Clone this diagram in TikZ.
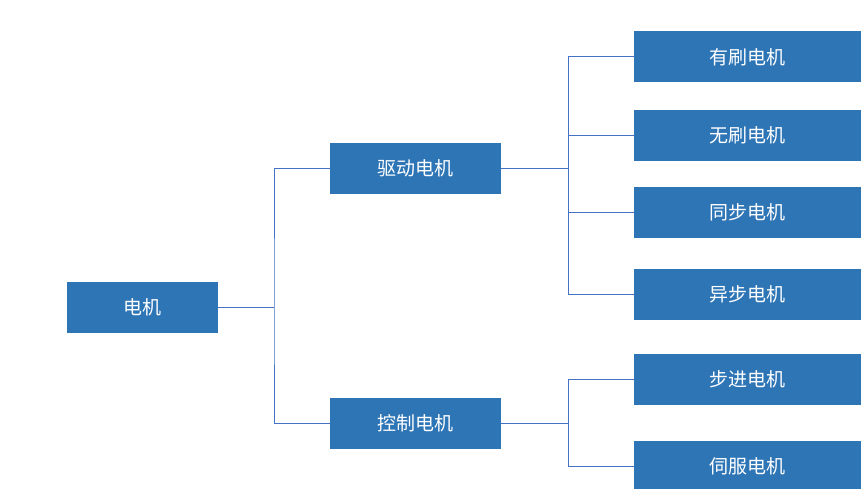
\documentclass[tikz,border=0pt]{standalone}
\usepackage{fontspec}
\newfontfamily\cjk{Noto Sans CJK SC}
\definecolor{boxblue}{HTML}{2E75B6}
\definecolor{lineblue}{HTML}{4472C4}
\begin{document}
\begin{tikzpicture}[x=1pt,y=-1pt,
  bx/.style={fill=boxblue,draw=none,text=white,font=\cjk\fontsize{19}{22}\selectfont,minimum height=51pt,inner sep=0pt},
  ln/.style={draw=lineblue,line width=1pt}]
\useasboundingbox (0,0) rectangle (864,489);
\node[bx,minimum width=151pt] (m) at (142.5,307.5) {电机};
\node[bx,minimum width=171pt] (d) at (415.5,168.5) {驱动电机};
\node[bx,minimum width=171pt] (k) at (415.5,423.5) {控制电机};
\node[bx,minimum width=227pt] (a1) at (747.5,57) {有刷电机};
\node[bx,minimum width=227pt] (a2) at (747.5,135.5) {无刷电机};
\node[bx,minimum width=227pt] (a3) at (747.5,212.5) {同步电机};
\node[bx,minimum width=227pt] (a4) at (747.5,294) {异步电机};
\node[bx,minimum width=227pt] (b1) at (747.5,379) {步进电机};
\node[bx,minimum width=227pt] (b2) at (747.5,466) {伺服电机};
\coordinate (j1) at (274,307.5);
\coordinate (j2) at (568,168.5);
\coordinate (j3) at (568,423.5);
\draw[ln] (m.east) -- (j1);
\draw[ln] (d.west) -| (j1) |- (k.west);
\draw[ln] (d.east) -- (j2);
\foreach \t in {a1,a2,a3,a4} \draw[ln] (j2) |- (\t.west);
\draw[ln] (k.east) -- (j3);
\foreach \t in {b1,b2} \draw[ln] (j3) |- (\t.west);
\end{tikzpicture}
\end{document}
